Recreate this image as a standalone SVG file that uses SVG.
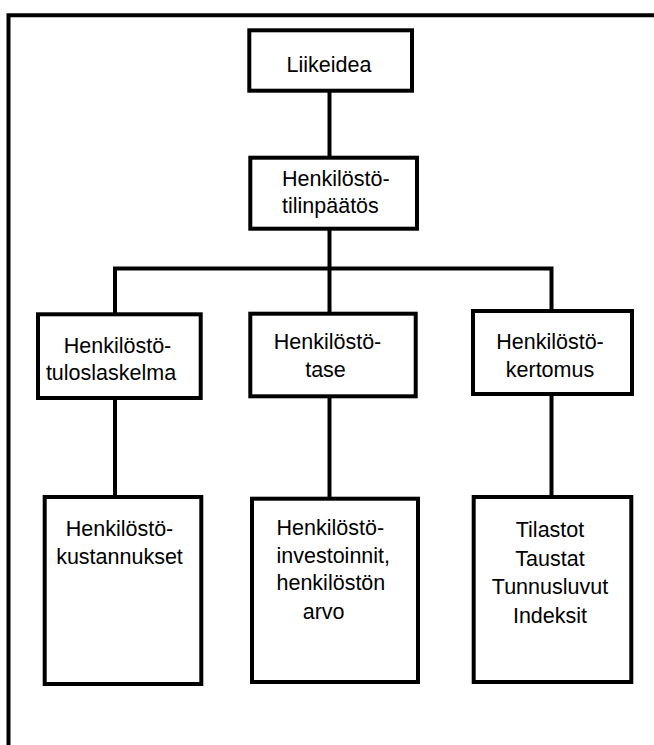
<svg xmlns="http://www.w3.org/2000/svg" width="654" height="745" viewBox="0 0 654 745">
<style>
.box{fill:#fff;stroke:#000;stroke-width:4}
.ln{fill:none;stroke:#000;stroke-width:4}
text{font-family:"Liberation Sans",Arial,sans-serif;font-size:21.5px;fill:#000;text-anchor:middle}
text.l{text-anchor:start}
</style>
<rect width="654" height="745" fill="#fff"/>
<path class="ln" d="M8.5,745 V15.3 H654"/>
<g id="connectors">
<path class="ln" d="M329.5,91 V158 M329.5,229 V268.5 M115,268.5 H551.5 M115,266.5 V314 M329.5,268.5 V314 M551.5,266.5 V311 M115,398 V497 M329.5,396 V499 M551.5,394 V497"/>
</g>
<g id="liikeidea"><rect class="box" x="249.3" y="30.3" width="162.7" height="60.4"/><text x="329" y="72">Liikeidea</text></g>
<g id="tilinpaatos"><rect class="box" x="250.3" y="157.7" width="166.7" height="71"/><text class="l" x="282" y="186">Henkilöstö-</text><text class="l" x="282" y="213">tilinpäätös</text></g>
<g id="tuloslaskelma"><rect class="box" x="38" y="314.3" width="162.7" height="83.7"/><text x="117.5" y="353">Henkilöstö-</text><text x="111" y="380">tuloslaskelma</text></g>
<g id="tase"><rect class="box" x="250.3" y="313.7" width="165.4" height="82.6"/><text x="327.5" y="349">Henkilöstö-</text><text x="325.5" y="377">tase</text></g>
<g id="kertomus"><rect class="box" x="473" y="311" width="159" height="83"/><text x="550" y="349">Henkilöstö-</text><text x="550" y="377">kertomus</text></g>
<g id="kustannukset"><rect class="box" x="44.7" y="497" width="156.6" height="187"/><text x="119.5" y="536">Henkilöstö-</text><text x="119.5" y="564">kustannukset</text></g>
<g id="investoinnit"><rect class="box" x="252" y="498.7" width="166" height="183.3"/><text class="l" x="276.5" y="535">Henkilöstö-</text><text class="l" x="276.5" y="563">investoinnit,</text><text class="l" x="276.5" y="590">henkilöstön</text><text class="l" x="302.7" y="619">arvo</text></g>
<g id="tilastot"><rect class="box" x="473.7" y="497" width="157.6" height="185"/><text x="550" y="537">Tilastot</text><text x="550" y="566">Taustat</text><text x="550" y="594">Tunnusluvut</text><text x="550" y="623">Indeksit</text></g>
</svg>
